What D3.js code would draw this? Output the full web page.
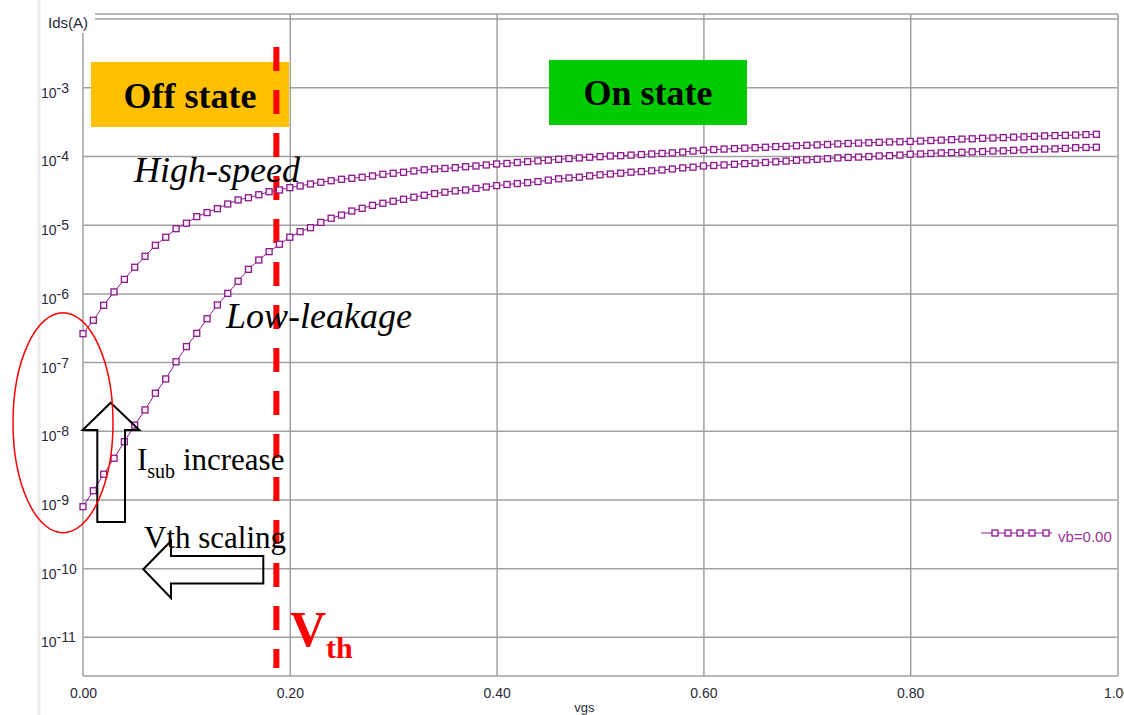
<!DOCTYPE html>
<html>
<head>
<meta charset="utf-8">
<script src="https://cdn.jsdelivr.net/npm/d3@7"></script>
<style>
  body { margin: 0; background: #fff; }
  svg { display: block; }
  .tick text { font-family: "Liberation Sans", Arial, sans-serif; fill: #2a2a3a; }
  .serif { font-family: "Liberation Serif", "Times New Roman", serif; }
</style>
</head>
<body>
<script>
// ─── Daten ──────────────────────────────────────────────────────────────────

// vgs sweep (V)
const vgs = [
  0.00, 0.01, 0.02, 0.03, 0.04, 0.05, 0.06, 0.07, 0.08, 0.09,
  0.10, 0.11, 0.12, 0.13, 0.14, 0.15, 0.16, 0.17, 0.18, 0.19,
  0.20, 0.21, 0.22, 0.23, 0.24, 0.25, 0.26, 0.27, 0.28, 0.29,
  0.30, 0.31, 0.32, 0.33, 0.34, 0.35, 0.36, 0.37, 0.38, 0.39,
  0.40, 0.41, 0.42, 0.43, 0.44, 0.45, 0.46, 0.47, 0.48, 0.49,
  0.50, 0.51, 0.52, 0.53, 0.54, 0.55, 0.56, 0.57, 0.58, 0.59,
  0.60, 0.61, 0.62, 0.63, 0.64, 0.65, 0.66, 0.67, 0.68, 0.69,
  0.70, 0.71, 0.72, 0.73, 0.74, 0.75, 0.76, 0.77, 0.78, 0.79,
  0.80, 0.81, 0.82, 0.83, 0.84, 0.85, 0.86, 0.87, 0.88, 0.89,
  0.90, 0.91, 0.92, 0.93, 0.94, 0.95, 0.96, 0.97, 0.98
];

// Ids (A), high-speed device (low Vth)
const idsHighSpeed = [
  2.59e-7, 4.06e-7, 6.71e-7, 1.05e-6, 1.60e-6, 2.40e-6, 3.47e-6, 5.01e-6, 6.56e-6, 8.75e-6,
  1.05e-5, 1.31e-5, 1.50e-5, 1.71e-5, 2.00e-5, 2.29e-5, 2.47e-5, 2.73e-5, 3.02e-5, 3.20e-5,
  3.46e-5, 3.66e-5, 3.91e-5, 4.14e-5, 4.37e-5, 4.58e-5, 4.73e-5, 4.90e-5, 5.12e-5, 5.42e-5,
  5.60e-5, 5.79e-5, 6.05e-5, 6.30e-5, 6.47e-5, 6.58e-5, 6.76e-5, 6.98e-5, 7.15e-5, 7.40e-5,
  7.65e-5, 7.78e-5, 8.04e-5, 8.26e-5, 8.49e-5, 8.69e-5, 8.95e-5, 9.17e-5, 9.36e-5, 9.58e-5,
  9.77e-5, 1.00e-4, 1.01e-4, 1.03e-4, 1.05e-4, 1.07e-4, 1.09e-4, 1.11e-4, 1.14e-4, 1.18e-4,
  1.21e-4, 1.24e-4, 1.26e-4, 1.28e-4, 1.30e-4, 1.32e-4, 1.34e-4, 1.37e-4, 1.38e-4, 1.41e-4,
  1.43e-4, 1.45e-4, 1.47e-4, 1.50e-4, 1.52e-4, 1.54e-4, 1.56e-4, 1.58e-4, 1.60e-4, 1.61e-4,
  1.63e-4, 1.65e-4, 1.68e-4, 1.70e-4, 1.73e-4, 1.76e-4, 1.78e-4, 1.81e-4, 1.83e-4, 1.85e-4,
  1.88e-4, 1.90e-4, 1.93e-4, 1.96e-4, 1.98e-4, 2.00e-4, 2.02e-4, 2.05e-4, 2.07e-4
];

// Ids (A), low-leakage device (high Vth)
const idsLowLeakage = [
  7.85e-10, 1.34e-9, 2.33e-9, 3.98e-9, 6.93e-9, 1.21e-8, 2.01e-8, 3.52e-8, 5.68e-8, 1.01e-7,
  1.68e-7, 2.62e-7, 4.27e-7, 6.78e-7, 1.00e-6, 1.50e-6, 2.24e-6, 3.06e-6, 4.05e-6, 5.19e-6,
  6.56e-6, 7.91e-6, 9.04e-6, 1.08e-5, 1.24e-5, 1.38e-5, 1.58e-5, 1.73e-5, 1.91e-5, 2.05e-5,
  2.19e-5, 2.34e-5, 2.51e-5, 2.68e-5, 2.84e-5, 2.97e-5, 3.10e-5, 3.20e-5, 3.37e-5, 3.54e-5,
  3.70e-5, 3.85e-5, 3.97e-5, 4.09e-5, 4.24e-5, 4.45e-5, 4.65e-5, 4.79e-5, 4.91e-5, 5.13e-5,
  5.32e-5, 5.47e-5, 5.62e-5, 5.81e-5, 5.93e-5, 6.09e-5, 6.25e-5, 6.47e-5, 6.71e-5, 6.87e-5,
  7.15e-5, 7.27e-5, 7.40e-5, 7.57e-5, 7.75e-5, 7.86e-5, 8.04e-5, 8.23e-5, 8.43e-5, 8.66e-5,
  8.80e-5, 8.95e-5, 9.14e-5, 9.38e-5, 9.54e-5, 9.64e-5, 9.80e-5, 1.00e-4, 1.01e-4, 1.03e-4,
  1.06e-4, 1.07e-4, 1.09e-4, 1.11e-4, 1.12e-4, 1.13e-4, 1.15e-4, 1.16e-4, 1.18e-4, 1.19e-4,
  1.21e-4, 1.23e-4, 1.25e-4, 1.26e-4, 1.27e-4, 1.29e-4, 1.32e-4, 1.33e-4, 1.34e-4
];

const xTicks = [0.0, 0.2, 0.4, 0.6, 0.8, 1.0];
const yTicks = [1e-3, 1e-4, 1e-5, 1e-6, 1e-7, 1e-8, 1e-9, 1e-10, 1e-11];
const vth = 0.187;
const legendLabel = 'vb=0.00';

// ─── Layout ─────────────────────────────────────────────────────────────────

const W = 1124, H = 715;
const plotLeft = 83, plotRight = 1117, plotTop = 14, plotBottom = 676;
const purple = '#8b1a8b';

const svg = d3.select('body').append('svg')
  .attr('width', W)
  .attr('height', H);

const x = d3.scaleLinear().domain([0, 1]).range([plotLeft, plotRight]);
const y = d3.scaleLog().domain([Math.pow(10, -11.57), 1e-2]).range([plotBottom, 18.6]);

// linker grauer Rand
svg.append('line')
  .attr('x1', 39).attr('x2', 39).attr('y1', 0).attr('y2', H)
  .attr('stroke', '#ececec').attr('stroke-width', 3);

// ─── Achsen & Gitter ────────────────────────────────────────────────────────

const xAxisG = svg.append('g')
  .attr('transform', `translate(0,${plotBottom})`)
  .call(d3.axisBottom(x)
    .tickValues(xTicks)
    .tickFormat(d3.format('.2f'))
    .tickSize(-(plotBottom - plotTop))
    .tickPadding(12));
xAxisG.select('.domain').remove();
xAxisG.selectAll('.tick line')
  .attr('stroke', '#a0a0a0').attr('stroke-width', 1.5)
  .attr('display', d => (d === 0 || d === 1) ? 'none' : null);
xAxisG.selectAll('.tick text').attr('font-size', 14);

const yAxisG = svg.append('g')
  .attr('transform', `translate(${plotLeft},0)`)
  .call(d3.axisLeft(y)
    .tickValues(yTicks)
    .tickSize(-(plotRight - plotLeft))
    .tickFormat(() => ''));
yAxisG.select('.domain').remove();
yAxisG.selectAll('.tick line')
  .attr('stroke', '#a0a0a0').attr('stroke-width', 1.5);
yAxisG.selectAll('.tick text').each(function (d) {
  const t = d3.select(this)
    .attr('x', 41 - plotLeft).attr('y', 10).attr('dy', null)
    .attr('text-anchor', 'start').attr('font-size', 14);
  t.append('tspan').text('10');
  t.append('tspan').attr('dy', -5).text(String(Math.round(Math.log10(d))));
});

// Rahmen
const frame = svg.append('g').attr('stroke', '#a0a0a0').attr('stroke-width', 1.5);
frame.append('line').attr('x1', plotLeft).attr('x2', plotLeft).attr('y1', 33).attr('y2', plotBottom);
frame.append('line').attr('x1', plotLeft).attr('x2', plotRight + 1).attr('y1', plotBottom).attr('y2', plotBottom);
frame.append('line').attr('x1', plotRight + 1).attr('x2', plotRight + 1).attr('y1', plotTop).attr('y2', plotBottom);
frame.append('line').attr('x1', 95).attr('x2', plotRight + 1).attr('y1', plotTop).attr('y2', plotTop);
frame.append('line').attr('x1', 95).attr('x2', plotRight + 1).attr('y1', 19).attr('y2', 19);

svg.append('text')
  .attr('x', 48).attr('y', 28)
  .attr('font-family', '"Liberation Sans", Arial, sans-serif')
  .attr('font-size', 15).attr('fill', '#2a2a3a')
  .text('Ids(A)');

svg.append('text')
  .attr('x', x(0.485)).attr('y', 712)
  .attr('text-anchor', 'middle')
  .attr('font-family', '"Liberation Sans", Arial, sans-serif')
  .attr('font-size', 13).attr('fill', '#2a2a3a')
  .text('vgs');

// ─── Zustands-Boxen ─────────────────────────────────────────────────────────

svg.append('rect').attr('x', 91).attr('y', 62).attr('width', 198).attr('height', 65).attr('fill', '#ffc000');
svg.append('text').attr('class', 'serif')
  .attr('x', 190).attr('y', 108).attr('text-anchor', 'middle')
  .attr('font-size', 36).attr('font-weight', 'bold')
  .text('Off state');

svg.append('rect').attr('x', 549).attr('y', 60).attr('width', 198).attr('height', 65).attr('fill', '#00cc00');
svg.append('text').attr('class', 'serif')
  .attr('x', 648).attr('y', 105).attr('text-anchor', 'middle')
  .attr('font-size', 36).attr('font-weight', 'bold')
  .text('On state');

// Vth Linie
svg.append('line')
  .attr('x1', x(vth)).attr('x2', x(vth))
  .attr('y1', 47).attr('y2', 668)
  .attr('stroke', '#ff0000').attr('stroke-width', 6)
  .attr('stroke-dasharray', '24,19');

// ─── Kurven ─────────────────────────────────────────────────────────────────

const series = [idsHighSpeed, idsLowLeakage].map(arr => vgs.map((v, i) => ({ v, ids: arr[i] })));

const line = d3.line().x(d => x(d.v)).y(d => y(d.ids));

series.forEach(s => {
  svg.append('path')
    .datum(s)
    .attr('d', line)
    .attr('fill', 'none')
    .attr('stroke', purple)
    .attr('stroke-width', 1);

  svg.append('g').selectAll('rect')
    .data(s)
    .enter()
    .append('rect')
    .attr('x', d => x(d.v) - 3)
    .attr('y', d => y(d.ids) - 3)
    .attr('width', 6)
    .attr('height', 6)
    .attr('fill', '#f6eef6')
    .attr('stroke', purple)
    .attr('stroke-width', 1.3);
});

// Legende
const legend = svg.append('g');
legend.append('line')
  .attr('x1', 981).attr('x2', 1052).attr('y1', 533).attr('y2', 533)
  .attr('stroke', purple).attr('stroke-width', 1);
legend.selectAll('rect')
  .data([995, 1008, 1020, 1032, 1046])
  .enter()
  .append('rect')
  .attr('x', d => d - 3).attr('y', 530).attr('width', 6).attr('height', 6)
  .attr('fill', '#f6eef6').attr('stroke', purple).attr('stroke-width', 1.3);
legend.append('text')
  .attr('x', 1058).attr('y', 542)
  .attr('font-family', '"Liberation Sans", Arial, sans-serif')
  .attr('font-size', 15).attr('fill', '#993399')
  .text(legendLabel);

// ─── Annotationen ───────────────────────────────────────────────────────────

svg.append('text').attr('class', 'serif')
  .attr('x', 134).attr('y', 182)
  .attr('font-size', 36).attr('font-style', 'italic')
  .text('High-speed');

svg.append('text').attr('class', 'serif')
  .attr('x', 226).attr('y', 328)
  .attr('font-size', 36).attr('font-style', 'italic')
  .text('Low-leakage');

const isub = svg.append('text').attr('class', 'serif')
  .attr('x', 137).attr('y', 470).attr('font-size', 31);
isub.append('tspan').text('I');
isub.append('tspan').attr('font-size', 20).attr('dy', 8).text('sub');
isub.append('tspan').attr('dy', -8).text(' increase');

svg.append('text').attr('class', 'serif')
  .attr('x', 144).attr('y', 548).attr('font-size', 31)
  .text('Vth scaling');

const vthLabel = svg.append('text').attr('class', 'serif')
  .attr('x', 290).attr('y', 646)
  .attr('fill', '#ff0000').attr('font-weight', 'bold').attr('font-size', 50);
vthLabel.append('tspan').text('V');
vthLabel.append('tspan').attr('font-size', 30).attr('dy', 12).text('th');

// Pfeil nach oben
svg.append('path')
  .attr('d', 'M110.7,402.7 L139.3,430 L125,430 L125,522 L97.3,522 L97.3,430 L82.7,430 Z')
  .attr('fill', 'none').attr('stroke', '#000').attr('stroke-width', 2);

// Pfeil nach links
svg.append('path')
  .attr('d', 'M143.3,569.3 L171,541 L171,556 L263.3,556 L263.3,583.5 L171,583.5 L171,598 Z')
  .attr('fill', 'none').attr('stroke', '#000').attr('stroke-width', 2);

// Ellipse
svg.append('ellipse')
  .attr('cx', 63).attr('cy', 422.7).attr('rx', 50).attr('ry', 110)
  .attr('fill', 'none').attr('stroke', '#ff0000').attr('stroke-width', 1.5);
</script>
</body>
</html>
